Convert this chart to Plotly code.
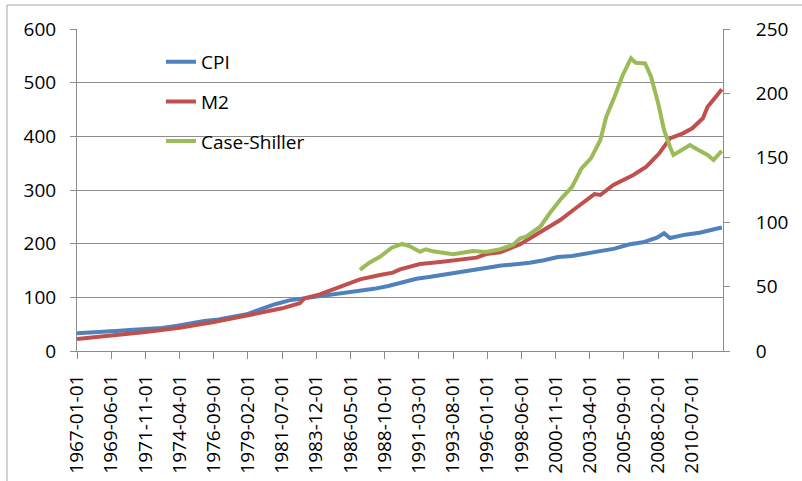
import plotly.graph_objects as go

# ---------------- data ----------------
TICK_LABELS = [
    "1967-01-01", "1969-06-01", "1971-11-01", "1974-04-01", "1976-09-01",
    "1979-02-01", "1981-07-01", "1983-12-01", "1986-05-01", "1988-10-01",
    "1991-03-01", "1993-08-01", "1996-01-01", "1998-06-01", "2000-11-01",
    "2003-04-01", "2005-09-01", "2008-02-01", "2010-07-01",
]

CPI_DATES = [
    "1967-01-01", "1968-01-01", "1969-01-01", "1970-01-01", "1971-01-01",
    "1972-01-01", "1973-01-01", "1974-01-01", "1975-01-01", "1976-01-01",
    "1977-01-01", "1978-01-01", "1979-01-01", "1980-01-01", "1981-01-01",
    "1982-01-01", "1983-01-01", "1984-01-01", "1985-01-01", "1986-01-01",
    "1987-01-01", "1988-01-01", "1989-01-01", "1990-01-01", "1991-01-01",
    "1992-01-01", "1993-01-01", "1994-01-01", "1995-01-01", "1996-01-01",
    "1997-01-01", "1998-01-01", "1999-01-01", "2000-01-01", "2001-01-01",
    "2002-01-01", "2003-01-01", "2004-01-01", "2005-01-01", "2006-01-01",
    "2007-01-01", "2008-01-01", "2008-07-01", "2008-12-01", "2010-01-01",
    "2011-01-01", "2012-01-01", "2012-08-01",
]
CPI_VALUES = [
    33.0, 34.2, 35.8, 37.9, 39.8,
    41.2, 42.7, 46.8, 52.2, 55.8,
    58.6, 62.8, 68.4, 78.0, 87.2,
    94.4, 97.9, 102.0, 105.6, 109.7,
    111.4, 115.8, 121.2, 127.5, 134.7,
    138.2, 142.7, 146.3, 150.4, 154.5,
    159.2, 161.7, 164.4, 169.0, 175.2,
    177.2, 181.8, 185.3, 190.8, 198.4,
    202.5, 211.2, 219.5, 210.5, 216.8,
    220.3, 226.8, 230.0,
]

M2_DATES = [
    "1967-01-01", "1969-06-01", "1971-11-01", "1974-04-01", "1976-09-01",
    "1979-02-01", "1981-07-01", "1982-10-01", "1983-02-01", "1984-03-01",
    "1985-08-01", "1987-01-01", "1988-06-01", "1989-05-01", "1989-11-01",
    "1991-04-01", "1992-09-01", "1994-02-01", "1995-04-01", "1995-12-01",
    "1996-12-01", "1998-05-01", "1999-10-01", "2001-03-01", "2002-02-01",
    "2003-01-01", "2003-08-01", "2004-01-01", "2004-12-01", "2006-05-01",
    "2007-04-01", "2008-03-01", "2008-12-01", "2009-11-01", "2010-07-01",
    "2011-04-01", "2011-08-01", "2012-03-01", "2012-08-01",
]
M2_VALUES = [
    22.4, 28.0, 35.4, 43.5, 54.0,
    66.5, 79.5, 89.0, 98.0, 105.6,
    119.8, 133.6, 141.6, 146.0, 152.0,
    162.0, 165.8, 169.5, 174.0, 180.7,
    184.0, 199.0, 222.3, 244.0, 262.7,
    281.3, 292.5, 290.7, 309.3, 328.0,
    343.5, 368.4, 396.3, 405.6, 415.0,
    433.6, 455.2, 473.8, 487.6,
]

CS_DATES = [
    "1987-01-01", "1987-09-01", "1988-06-01", "1989-04-01", "1990-01-01",
    "1990-07-01", "1991-04-01", "1991-09-01", "1992-03-01", "1993-08-01",
    "1995-01-01", "1995-12-01", "1996-12-01", "1997-11-01", "1998-05-01",
    "1998-10-01", "1999-10-01", "2000-06-01", "2001-04-01", "2002-01-01",
    "2002-09-01", "2003-05-01", "2004-01-01", "2004-06-01", "2005-01-01",
    "2005-08-01", "2006-03-01", "2006-07-01", "2007-03-01", "2007-08-01",
    "2008-02-01", "2008-07-01", "2008-12-01", "2009-03-01", "2009-10-01",
    "2010-05-01", "2010-11-01", "2011-08-01", "2012-01-01", "2012-08-01",
]
CS_VALUES = [
    63.0, 68.6, 73.2, 80.2, 83.1,
    81.5, 77.1, 79.0, 77.4, 75.1,
    77.6, 76.9, 79.0, 82.5, 87.5,
    88.7, 96.5, 106.9, 118.5, 127.5,
    141.8, 149.6, 163.8, 181.9, 197.4,
    214.3, 227.3, 223.8, 223.3, 213.0,
    192.3, 171.6, 158.6, 152.2, 156.0,
    159.9, 156.6, 152.2, 148.3, 155.3,
]

X_RANGE = ["1967-01-01", "2012-09-01"]

# ---------------- figure ----------------
FONT = "Open Sans"
FS = 19
GRID = "#8c8c8c"
LW = 4

fig = go.Figure()
fig.add_trace(go.Scatter(x=CPI_DATES, y=CPI_VALUES, name="CPI", mode="lines",
                         line=dict(color="#4F81BD", width=LW), legendgroup="g1"))
fig.add_trace(go.Scatter(x=M2_DATES, y=M2_VALUES, name="M2", mode="lines",
                         line=dict(color="#C0504D", width=LW), legendgroup="g2"))
fig.add_trace(go.Scatter(x=CS_DATES, y=CS_VALUES, name="Case-Shiller", mode="lines",
                         line=dict(color="#9BBB59", width=LW), legendgroup="g3",
                         yaxis="y2"))

fig.update_layout(
    width=802, height=481,
    margin=dict(l=77, r=79, t=29, b=130, autoexpand=False),
    paper_bgcolor="white", plot_bgcolor="white",
    font=dict(family=FONT, size=FS, color="black"),
    showlegend=True,
    legend=dict(x=0.13, y=0.957, xanchor="left", yanchor="top",
                bgcolor="rgba(0,0,0,0)", font=dict(size=FS),
                tracegroupgap=12),
    xaxis=dict(
        type="date", range=X_RANGE,
        tickmode="array", tickvals=TICK_LABELS, ticktext=TICK_LABELS,
        tickangle=-90, ticks="outside", ticklen=7, tickcolor=GRID,
        showline=True, linecolor=GRID, linewidth=1,
        showgrid=False, zeroline=False,
        ticklabelstandoff=8,
    ),
    yaxis=dict(
        range=[0, 600], dtick=100, tick0=0,
        ticks="outside", ticklen=6, tickcolor=GRID,
        showline=True, linecolor=GRID, linewidth=1,
        showgrid=True, gridcolor=GRID, gridwidth=1,
        zeroline=False, ticklabelstandoff=10,
    ),
    yaxis2=dict(
        range=[0, 250], dtick=50, tick0=0, overlaying="y", side="right",
        ticks="outside", ticklen=6, tickcolor=GRID,
        showline=True, linecolor=GRID, linewidth=1,
        showgrid=False, zeroline=False, ticklabelstandoff=22,
    ),
    shapes=[
        dict(type="line", xref="paper", yref="paper",
             x0=-0.1084, x1=1.2, y0=1.0745, y1=1.0745,
             line=dict(color="#a6a6a6", width=1)),
        dict(type="line", xref="paper", yref="paper",
             x0=-0.1084, x1=-0.1084, y0=1.0745, y1=-0.5,
             line=dict(color="#a6a6a6", width=1)),
    ],
)

fig.write_html("out.html", config={"displayModeBar": False},
               post_script="document.body.style.margin='0';")
